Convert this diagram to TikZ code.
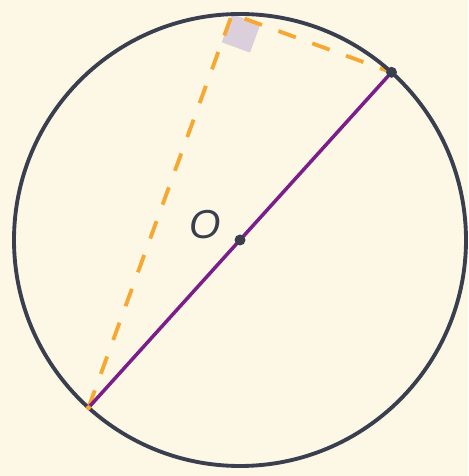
\documentclass[tikz,border=0pt]{standalone}
\usepackage{fontspec}
\setsansfont{Liberation Sans}
\usetikzlibrary{calc, positioning}
\definecolor{cbg}{HTML}{FDF8E6}
\definecolor{cink}{HTML}{3A3F4F}
\definecolor{cpurple}{HTML}{7A1E8A}
\definecolor{corange}{HTML}{F6A832}
\definecolor{clilac}{HTML}{DCCFDC}
\tikzset{
  every picture/.style={x=0.02cm, y=0.02cm},
  rim/.style={draw=cink, line width=2.2pt},
  diam/.style={draw=cpurple, line width=2pt},
  leg/.style={draw=corange, line width=2.2pt, dash pattern=on 10.5pt off 10pt},
  corner/.style={fill=clilac, draw=none},
  pt/.style={circle, fill=#1, inner sep=0pt, minimum size=0.22cm},
  label/.style={font=\fontsize{23}{26}\selectfont\sffamily\itshape, text=cink},
}
\begin{document}
\begin{tikzpicture}
  \fill[cbg] (0,0) rectangle (468,476);
  \useasboundingbox (0,0) rectangle (468,476);
  \coordinate (O) at (240,236);
  \coordinate (A) at ($(O)+(47.9:226)$);
  \coordinate (B) at ($(O)+(227.9:226)$);
  \coordinate (C) at ($(O)+(92:226)$);
  % right angle mark at C
  \coordinate (ca) at ($(C)!0.6cm!(A)$);
  \coordinate (cb) at ($(C)!0.6cm!(B)$);
  \fill[corner] (C) -- (ca) -- ($(ca)+(cb)-(C)$) -- (cb) -- cycle;
  \draw[leg] (B) -- (C) -- (A);
  \draw[rim] (O) circle[radius=226];
  \draw[diam] (B) -- (A);
  \node[pt=cink] (a) at (A) {};
  \node[circle, fill=corange, inner sep=0pt, minimum size=0.1cm] (b) at (B) {};
  \node[pt=cink] (o) at (O) {};
  \node[label, left=0.14cm of o, yshift=0.3cm] (olabel) {O};
\end{tikzpicture}
\end{document}
